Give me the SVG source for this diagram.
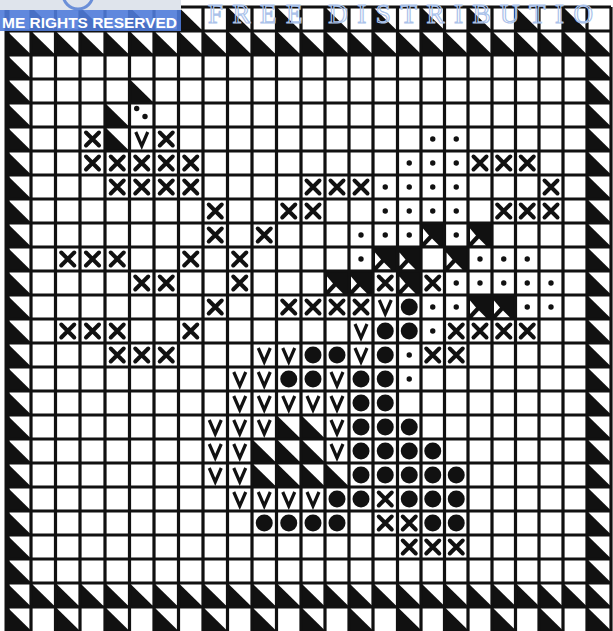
<svg xmlns="http://www.w3.org/2000/svg" width="613" height="631" viewBox="0 0 613 631">
<style>
.grid{stroke:#111;stroke-width:3.2;fill:none}
.wm{font-family:"Liberation Serif","Times New Roman",serif;fill:none;stroke:#aac2ea;stroke-width:1.2}
.ban{font-family:"Liberation Sans",Arial,sans-serif;font-weight:bold;fill:#fff}
</style>
<defs>
<polygon id="t" points="0,0 0,24 24.5,24" fill="#111"/>
<g id="n"><rect width="24.5" height="24" fill="#111"/><polygon points="2,5.5 2,19 8,12.5" fill="#fff"/><polygon points="4.5,22.5 18,22.5 11,15.5" fill="#fff"/></g>
<path id="x" d="M-6.5,-6.5L6.5,6.5M-6.5,6.5L6.5,-6.5" stroke="#111" stroke-width="4" stroke-linecap="round" fill="none"/>
<path id="v" d="M-6,-7L0,7L6,-7" stroke="#111" stroke-width="3.2" fill="none"/>
<circle id="d" r="2.7" fill="#111"/>
<circle id="b" r="8.5" fill="#111"/>
<g id="trow">
<use href="#t" x="7"/><use href="#t" x="31"/><use href="#t" x="55.5"/><use href="#t" x="80"/><use href="#t" x="105"/><use href="#t" x="129.5"/><use href="#t" x="154"/><use href="#t" x="178.5"/><use href="#t" x="203"/><use href="#t" x="227.5"/><use href="#t" x="252"/><use href="#t" x="276.5"/><use href="#t" x="301"/><use href="#t" x="325"/><use href="#t" x="349"/><use href="#t" x="373"/><use href="#t" x="397.5"/><use href="#t" x="421"/><use href="#t" x="444.5"/><use href="#t" x="468"/><use href="#t" x="492"/><use href="#t" x="515.5"/><use href="#t" x="539"/><use href="#t" x="563"/><use href="#t" x="587"/>
</g>
<g id="tcol">
<use href="#t" y="55"/><use href="#t" y="79"/><use href="#t" y="103"/><use href="#t" y="127"/><use href="#t" y="151"/><use href="#t" y="175"/><use href="#t" y="199"/><use href="#t" y="223"/><use href="#t" y="247"/><use href="#t" y="271"/><use href="#t" y="295"/><use href="#t" y="319"/><use href="#t" y="343"/><use href="#t" y="367"/><use href="#t" y="391"/><use href="#t" y="415"/><use href="#t" y="439"/><use href="#t" y="463"/><use href="#t" y="487"/><use href="#t" y="511"/><use href="#t" y="535"/><use href="#t" y="559"/>
</g>
</defs>
<rect width="613" height="631" fill="#fff"/>

<g id="border">
<use href="#trow" y="31"/>
<use href="#trow" y="583"/>
<use href="#tcol" x="7"/>
<use href="#tcol" x="587"/>
<use href="#t" x="31" y="7"/><use href="#t" x="80" y="7"/><use href="#t" x="129.5" y="7"/><use href="#t" x="178.5" y="7"/><use href="#t" x="227.5" y="7"/><use href="#t" x="276.5" y="7"/><use href="#t" x="325" y="7"/><use href="#t" x="373" y="7"/><use href="#t" x="421" y="7"/><use href="#t" x="468" y="7"/><use href="#t" x="515.5" y="7"/><use href="#t" x="563" y="7"/>
<use href="#t" x="7" y="607"/><use href="#t" x="55.5" y="607"/><use href="#t" x="105" y="607"/><use href="#t" x="154" y="607"/><use href="#t" x="203" y="607"/><use href="#t" x="252" y="607"/><use href="#t" x="301" y="607"/><use href="#t" x="349" y="607"/><use href="#t" x="397.5" y="607"/><use href="#t" x="444.5" y="607"/><use href="#t" x="492" y="607"/><use href="#t" x="539" y="607"/><use href="#t" x="587" y="607"/>
</g>

<g id="half-triangles">
<use href="#t" x="129.5" y="79"/><use href="#t" x="105" y="103"/><use href="#t" x="105" y="127"/>
<use href="#t" x="276.5" y="415"/><use href="#t" x="301" y="415"/>
<use href="#t" x="252" y="439"/><use href="#t" x="276.5" y="439"/><use href="#t" x="301" y="439"/>
<use href="#t" x="252" y="463"/><use href="#t" x="276.5" y="463"/><use href="#t" x="301" y="463"/><use href="#t" x="325" y="463"/>
</g>

<g id="notched">
<use href="#n" x="421" y="223"/><use href="#n" x="468" y="223"/>
<use href="#n" x="373" y="247"/><use href="#n" x="397.5" y="247"/><use href="#n" x="444.5" y="247"/>
<use href="#n" x="325" y="271"/><use href="#n" x="349" y="271"/><use href="#n" x="397.5" y="271"/>
<use href="#n" x="468" y="295"/><use href="#n" x="492" y="295"/>
</g>

<path id="gridlines" class="grid" d="M7,7V631M31,7V631M55.5,7V631M80,7V631M105,7V631M129.5,7V631M154,7V631M178.5,7V631M203,7V631M227.5,7V631M252,7V631M276.5,7V631M301,7V631M325,7V631M349,7V631M373,7V631M397.5,7V631M421,7V631M444.5,7V631M468,7V631M492,7V631M515.5,7V631M539,7V631M563,7V631M587,7V631M611,7V631
M7,7H611M7,31H611M7,55H611M7,79H611M7,103H611M7,127H611M7,151H611M7,175H611M7,199H611M7,223H611M7,247H611M7,271H611M7,295H611M7,319H611M7,343H611M7,367H611M7,391H611M7,415H611M7,439H611M7,463H611M7,487H611M7,511H611M7,535H611M7,559H611M7,583H611M7,607H611"/>
<path d="M7,7V631" stroke="#111" stroke-width="5"/>

<g id="crosses">
<use href="#x" x="92.5" y="139"/><use href="#x" x="166.25" y="139"/>
<use href="#x" x="92.5" y="163"/><use href="#x" x="117.25" y="163"/><use href="#x" x="141.75" y="163"/><use href="#x" x="166.25" y="163"/><use href="#x" x="190.75" y="163"/><use href="#x" x="480" y="163"/><use href="#x" x="503.75" y="163"/><use href="#x" x="527.25" y="163"/>
<use href="#x" x="117.25" y="187"/><use href="#x" x="141.75" y="187"/><use href="#x" x="166.25" y="187"/><use href="#x" x="190.75" y="187"/><use href="#x" x="313" y="187"/><use href="#x" x="337" y="187"/><use href="#x" x="361" y="187"/><use href="#x" x="551" y="187"/>
<use href="#x" x="215.25" y="211"/><use href="#x" x="288.75" y="211"/><use href="#x" x="313" y="211"/><use href="#x" x="503.75" y="211"/><use href="#x" x="527.25" y="211"/><use href="#x" x="551" y="211"/>
<use href="#x" x="215.25" y="235"/><use href="#x" x="264.25" y="235"/>
<use href="#x" x="67.75" y="259"/><use href="#x" x="92.5" y="259"/><use href="#x" x="117.25" y="259"/><use href="#x" x="190.75" y="259"/><use href="#x" x="239.75" y="259"/>
<use href="#x" x="141.75" y="283"/><use href="#x" x="166.25" y="283"/><use href="#x" x="239.75" y="283"/><use href="#x" x="385.25" y="283"/><use href="#x" x="432.75" y="283"/>
<use href="#x" x="215.25" y="307"/><use href="#x" x="288.75" y="307"/><use href="#x" x="313" y="307"/><use href="#x" x="337" y="307"/><use href="#x" x="361" y="307"/>
<use href="#x" x="67.75" y="331"/><use href="#x" x="92.5" y="331"/><use href="#x" x="117.25" y="331"/><use href="#x" x="190.75" y="331"/><use href="#x" x="456.25" y="331"/><use href="#x" x="480" y="331"/><use href="#x" x="503.75" y="331"/><use href="#x" x="527.25" y="331"/>
<use href="#x" x="117.25" y="355"/><use href="#x" x="141.75" y="355"/><use href="#x" x="166.25" y="355"/><use href="#x" x="432.75" y="355"/><use href="#x" x="456.25" y="355"/>
<use href="#x" x="385.25" y="499"/>
<use href="#x" x="385.25" y="523"/><use href="#x" x="409.25" y="523"/>
<use href="#x" x="409.25" y="547"/><use href="#x" x="432.75" y="547"/><use href="#x" x="456.25" y="547"/>
</g>

<g id="vees">
<use href="#v" x="141.75" y="139"/>
<use href="#v" x="385.25" y="307"/>
<use href="#v" x="361" y="331"/>
<use href="#v" x="264.25" y="355"/><use href="#v" x="288.75" y="355"/><use href="#v" x="361" y="355"/>
<use href="#v" x="239.75" y="379"/><use href="#v" x="264.25" y="379"/><use href="#v" x="337" y="379"/>
<use href="#v" x="239.75" y="403"/><use href="#v" x="264.25" y="403"/><use href="#v" x="288.75" y="403"/><use href="#v" x="313" y="403"/><use href="#v" x="337" y="403"/>
<use href="#v" x="215.25" y="427"/><use href="#v" x="239.75" y="427"/><use href="#v" x="264.25" y="427"/><use href="#v" x="337" y="427"/>
<use href="#v" x="215.25" y="451"/><use href="#v" x="239.75" y="451"/><use href="#v" x="337" y="451"/>
<use href="#v" x="215.25" y="475"/><use href="#v" x="239.75" y="475"/>
<use href="#v" x="239.75" y="499"/><use href="#v" x="264.25" y="499"/><use href="#v" x="288.75" y="499"/><use href="#v" x="313" y="499"/>
</g>

<g id="big-dots">
<use href="#b" x="409.25" y="307"/>
<use href="#b" x="385.25" y="331"/><use href="#b" x="409.25" y="331"/>
<use href="#b" x="313" y="355"/><use href="#b" x="337" y="355"/><use href="#b" x="385.25" y="355"/>
<use href="#b" x="288.75" y="379"/><use href="#b" x="313" y="379"/><use href="#b" x="361" y="379"/><use href="#b" x="385.25" y="379"/>
<use href="#b" x="361" y="403"/><use href="#b" x="385.25" y="403"/>
<use href="#b" x="361" y="427"/><use href="#b" x="385.25" y="427"/><use href="#b" x="409.25" y="427"/>
<use href="#b" x="361" y="451"/><use href="#b" x="385.25" y="451"/><use href="#b" x="409.25" y="451"/><use href="#b" x="432.75" y="451"/>
<use href="#b" x="361" y="475"/><use href="#b" x="385.25" y="475"/><use href="#b" x="409.25" y="475"/><use href="#b" x="432.75" y="475"/><use href="#b" x="456.25" y="475"/>
<use href="#b" x="337" y="499"/><use href="#b" x="361" y="499"/><use href="#b" x="409.25" y="499"/><use href="#b" x="432.75" y="499"/><use href="#b" x="456.25" y="499"/>
<use href="#b" x="264.25" y="523"/><use href="#b" x="288.75" y="523"/><use href="#b" x="313" y="523"/><use href="#b" x="337" y="523"/><use href="#b" x="432.75" y="523"/><use href="#b" x="456.25" y="523"/>
</g>

<g id="small-dots">
<use href="#d" x="136.7" y="108.5"/><use href="#d" x="145" y="116.5"/>
<use href="#d" x="432.75" y="139"/><use href="#d" x="456.25" y="139"/>
<use href="#d" x="409.25" y="163"/><use href="#d" x="432.75" y="163"/><use href="#d" x="456.25" y="163"/>
<use href="#d" x="385.25" y="187"/><use href="#d" x="409.25" y="187"/><use href="#d" x="432.75" y="187"/><use href="#d" x="456.25" y="187"/>
<use href="#d" x="385.25" y="211"/><use href="#d" x="409.25" y="211"/><use href="#d" x="432.75" y="211"/><use href="#d" x="456.25" y="211"/>
<use href="#d" x="361" y="235"/><use href="#d" x="385.25" y="235"/><use href="#d" x="409.25" y="235"/><use href="#d" x="456.25" y="235"/>
<use href="#d" x="361" y="259"/><use href="#d" x="480" y="259"/><use href="#d" x="503.75" y="259"/><use href="#d" x="527.25" y="259"/>
<use href="#d" x="456.25" y="283"/><use href="#d" x="480" y="283"/><use href="#d" x="503.75" y="283"/><use href="#d" x="527.25" y="283"/><use href="#d" x="551" y="283"/>
<use href="#d" x="432.75" y="307"/><use href="#d" x="456.25" y="307"/><use href="#d" x="527.25" y="307"/><use href="#d" x="551" y="307"/>
<use href="#d" x="432.75" y="331"/>
<use href="#d" x="409.25" y="355"/>
<use href="#d" x="409.25" y="379"/>
</g>

<g id="watermark">
<text class="wm" x="208" y="23" font-size="27" textLength="385" lengthAdjust="spacing">FREE DISTRIBUTIO</text>
<rect x="0" y="0" width="181" height="10" fill="#dfe4ec"/>
<circle cx="78" cy="-6" r="15" fill="none" stroke="#6b8fd8" stroke-width="3"/>
<rect x="0" y="10" width="181" height="21" fill="#4f7bd9" fill-opacity="0.9"/>
<text class="ban" x="2" y="28" font-size="15.5" textLength="175" lengthAdjust="spacingAndGlyphs">ME RIGHTS RESERVED</text>
</g>
</svg>
